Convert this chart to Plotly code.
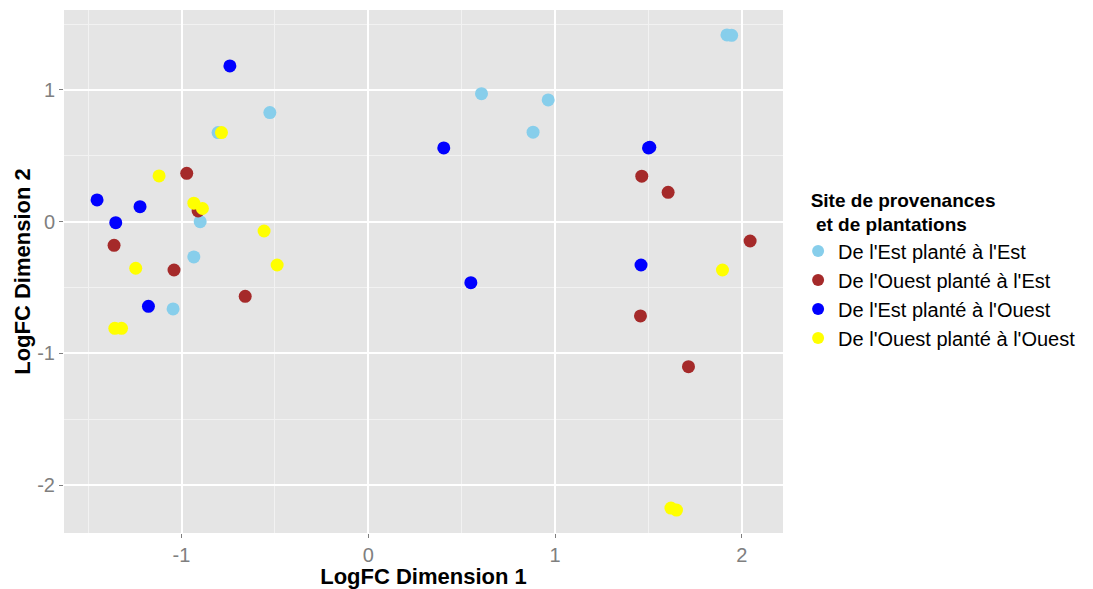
import plotly.graph_objects as go

# Data (LogFC Dimension 1, LogFC Dimension 2)
est_est_x = [-0.527, -0.804, -0.900, -0.934, -1.045, 0.606, 0.963, 0.882, 1.920, 1.945]
est_est_y = [0.828, 0.676, 0.000, -0.268, -0.663, 0.972, 0.924, 0.679, 1.418, 1.415]

ouest_est_x = [-0.972, -0.911, -1.361, -1.040, -0.659, 1.464, 1.605, 2.044, 1.457, 1.714]
ouest_est_y = [0.367, 0.081, -0.180, -0.367, -0.567, 0.345, 0.223, -0.147, -0.716, -1.101]

est_ouest_x = [-0.741, -1.452, -1.222, -1.352, -1.177, 0.404, 1.500, 1.507, 0.549, 1.460]
est_ouest_y = [1.182, 0.165, 0.114, -0.008, -0.643, 0.560, 0.560, 0.565, -0.463, -0.329]

ouest_ouest_x = [-0.786, -1.120, -0.934, -0.888, -0.558, -0.488, -1.245, -1.357, -1.321, 1.896, 1.620, 1.650]
ouest_ouest_y = [0.676, 0.347, 0.140, 0.100, -0.071, -0.329, -0.354, -0.810, -0.810, -0.367, -2.175, -2.190]

series_names = [
    "De l'Est planté à l'Est",
    "De l'Ouest planté à l'Est",
    "De l'Est planté à l'Ouest",
    "De l'Ouest planté à l'Ouest",
]
series_colors = ["#87CEEB", "#A52A2A", "#0000FF", "#FFFF00"]

x_ticks = [-1, 0, 1, 2]
y_ticks = [-2, -1, 0, 1]
x_minor = [-1.5, -0.5, 0.5, 1.5]
y_minor = [-1.5, -0.5, 0.5, 1.5]

xs = [est_est_x, ouest_est_x, est_ouest_x, ouest_ouest_x]
ys = [est_est_y, ouest_est_y, est_ouest_y, ouest_ouest_y]

fig = go.Figure()
for name, color, x, y in zip(series_names, series_colors, xs, ys):
    fig.add_trace(go.Scatter(
        x=x, y=y, mode="markers", name=name,
        marker=dict(color=color, size=13, line=dict(width=0)),
    ))

FONT = "Liberation Sans, Arial, sans-serif"
axis_common = dict(
    showgrid=True, gridcolor="white", gridwidth=1.6,
    zeroline=False, showline=False,
    ticks="outside", ticklen=4, tickwidth=1.2, tickcolor="#7F7F7F",
    tickfont=dict(family=FONT, size=20, color="#7F7F7F"),
)

fig.update_layout(
    width=1093, height=589,
    margin=dict(l=64, r=310, t=10, b=56, autoexpand=False),
    paper_bgcolor="white",
    plot_bgcolor="#E5E5E5",
    font=dict(family=FONT),
    xaxis=dict(
        range=[-1.629, 2.22], tickvals=x_ticks, ticktext=[str(v) for v in x_ticks],
        minor=dict(tickvals=x_minor, showgrid=True, gridcolor="#F2F2F2", gridwidth=0.8, ticks=""),
        title=dict(text="<b>LogFC Dimension 1</b>", font=dict(family=FONT, size=22, color="black"), standoff=3),
        **axis_common,
    ),
    yaxis=dict(
        range=[-2.364, 1.607], tickvals=y_ticks, ticktext=[str(v) for v in y_ticks],
        minor=dict(tickvals=y_minor, showgrid=True, gridcolor="#F2F2F2", gridwidth=0.8, ticks=""),
        title=dict(text="<b>LogFC Dimension 2</b>", font=dict(family=FONT, size=22, color="black"), standoff=0),
        **axis_common,
    ),
    legend=dict(
        title=dict(text="<b>&nbsp;&nbsp;Site de provenances<br>&nbsp;&nbsp;&nbsp;et de plantations</b>",
                   font=dict(family=FONT, size=19, color="black"), side="top"),
        font=dict(family=FONT, size=20, color="black"),
        x=1.021, xanchor="left", y=0.671, yanchor="top",
        bgcolor="rgba(0,0,0,0)", itemsizing="constant",
        tracegroupgap=0,
    ),
    showlegend=True,
)

fig.write_html("out.html")
